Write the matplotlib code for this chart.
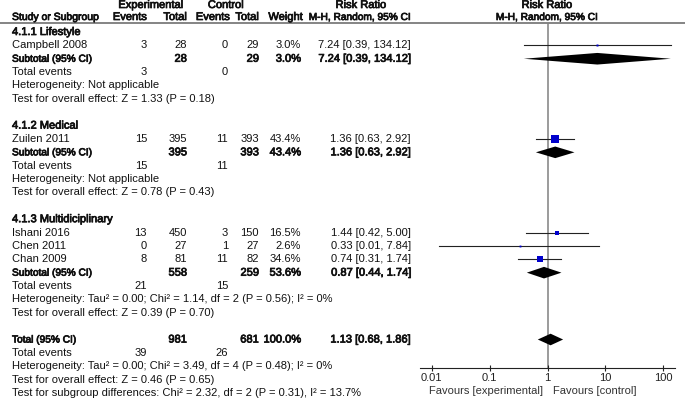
import numpy as np
import matplotlib.pyplot as plt
import matplotlib.patheffects as pe
from matplotlib.patches import Polygon

plt.rcParams['font.family'] = ['Liberation Sans', 'DejaVu Sans']
plt.rcParams['font.size'] = 8

##########
## DATA ##
##########

groups = ["4.1.1 Lifestyle", "4.1.2 Medical", "4.1.3 Multidiciplinary"]

studies = ["Campbell 2008", "Zuilen 2011", "Ishani 2016", "Chen 2011", "Chan 2009"]
study_group = [0, 1, 2, 2, 2]
exp_events = [3, 15, 13, 0, 8]
exp_total = [28, 395, 450, 27, 81]
ctl_events = [0, 11, 3, 1, 11]
ctl_total = [29, 393, 150, 27, 82]
weights = [3.0, 43.4, 16.5, 2.6, 34.6]
rr = [7.24, 1.36, 1.44, 0.33, 0.74]
rr_low = [0.39, 0.63, 0.42, 0.0136, 0.31]
rr_high = [134.12, 2.92, 5.00, 7.84, 1.74]

sub_exp_total = [28, 395, 558]
sub_ctl_total = [29, 393, 259]
sub_exp_events = [3, 15, 21]
sub_ctl_events = [0, 11, 15]
sub_weight = [3.0, 43.4, 53.6]
sub_rr = [7.24, 1.36, 0.87]
sub_low = [0.39, 0.63, 0.44]
sub_high = [134.12, 2.92, 1.74]
sub_het = ["Heterogeneity: Not applicable",
           "Heterogeneity: Not applicable",
           "Heterogeneity: Tau\u00b2 = 0.00; Chi\u00b2 = 1.14, df = 2 (P = 0.56); I\u00b2 = 0%"]
sub_test = ["Test for overall effect: Z = 1.33 (P = 0.18)",
            "Test for overall effect: Z = 0.78 (P = 0.43)",
            "Test for overall effect: Z = 0.39 (P = 0.70)"]

tot_exp_total = 981
tot_ctl_total = 681
tot_exp_events = 39
tot_ctl_events = 26
tot_weight = 100.0
tot_rr = 1.13
tot_low = 0.68
tot_high = 1.86
tot_het = "Heterogeneity: Tau\u00b2 = 0.00; Chi\u00b2 = 3.49, df = 4 (P = 0.48); I\u00b2 = 0%"
tot_test = "Test for overall effect: Z = 0.46 (P = 0.65)"
tot_subgroup = "Test for subgroup differences: Chi\u00b2 = 2.32, df = 2 (P = 0.31), I\u00b2 = 13.7%"

tick_vals = [0.01, 0.1, 1, 10, 100]
tick_labels = ["0.01", "0.1", "1", "10", "100"]

############
## LAYOUT ##
############

W, H = 685, 403
row0, row_h = 32, 13.37
x_label = 12
x_ee, x_et, x_ce, x_ct, x_w, x_rr = 147, 187, 228, 259, 301, 411
axis_y = 368
txt_col = '#111111'
small_bold = 7.3   # some bold labels are drawn narrower in the original

fig = plt.figure(figsize=(W / 100, H / 100), dpi=100)
tx = fig.add_axes([0, 0, 1, 1])
tx.set_xlim(0, W)
tx.set_ylim(H, 0)
tx.axis('off')

fx = fig.add_axes([420 / W, 0, 255 / W, 1])
fx.patch.set_visible(False)
fx.set_xscale('log')
fx.set_xlim(10 ** -2.2, 10 ** 2.2)
fx.set_ylim(H, 0)

# the reference's bold looks like a smeared regular face, so fake it with a thin stroke
fake_bold = [pe.withStroke(linewidth=0.55, foreground=txt_col)]


def ry(i):
    return row0 + row_h * i


def put(x, y, s, ha='right', bold=False, size=8):
    tx.text(x, y, s, ha=ha, va='center', color=txt_col, fontsize=size,
            path_effects=fake_bold if bold else None)


def rr_txt(v, lo, hi):
    return "%.2f [%.2f, %.2f]" % (v, lo, hi)


def diamond(y, v, lo, hi):
    hh = 5.8
    fx.add_patch(Polygon([[lo, y], [v, y - hh], [hi, y], [v, y + hh]],
                         closed=True, color='black', lw=0))


# headers
put(151, 5, "Experimental", ha='center', bold=True)
put(226, 5, "Control", ha='center', bold=True)
put(361, 5, "Risk Ratio", ha='center', bold=True)
put(547, 5, "Risk Ratio", ha='center', bold=True)
put(x_label, 17, "Study or Subgroup", ha='left', bold=True, size=7.5)
put(x_ee, 17, "Events", bold=True)
put(x_et, 17, "Total", bold=True)
put(x_ce + 2, 17, "Events", bold=True)
put(x_ct, 17, "Total", bold=True)
put(x_w + 2, 17, "Weight", bold=True)
put(x_rr, 17, "M-H, Random, 95% CI", bold=True, size=small_bold)
put(547, 17, "M-H, Random, 95% CI", ha='center', bold=True, size=small_bold)
tx.axhline(23, color='#707070', lw=1.2)

# rows
i = 0
for g, name in enumerate(groups):
    put(x_label, ry(i), name, ha='left', bold=True)
    i += 1
    for k in range(len(studies)):
        if study_group[k] != g:
            continue
        y = ry(i)
        put(x_label, y, studies[k], ha='left')
        put(x_ee, y, str(exp_events[k]))
        put(x_et, y, str(exp_total[k]))
        put(x_ce, y, str(ctl_events[k]))
        put(x_ct, y, str(ctl_total[k]))
        put(x_w, y, "%.1f%%" % weights[k])
        put(x_rr, y, rr_txt(rr[k], rr_low[k], rr_high[k]))
        fx.plot([rr_low[k], rr_high[k]], [y, y], color='#222222', lw=0.8)
        side = max(1.15 * np.sqrt(weights[k]), 1.2) * 0.72
        fx.plot([rr[k]], [y], marker='s', ms=side, color='#0000cc', mew=0)
        i += 1
    y = ry(i)
    put(x_label, y, "Subtotal (95% CI)", ha='left', bold=True, size=small_bold)
    put(x_et, y, str(sub_exp_total[g]), bold=True)
    put(x_ct, y, str(sub_ctl_total[g]), bold=True)
    put(x_w, y, "%.1f%%" % sub_weight[g], bold=True)
    put(x_rr, y, rr_txt(sub_rr[g], sub_low[g], sub_high[g]), bold=True)
    diamond(y, sub_rr[g], sub_low[g], sub_high[g])
    i += 1
    put(x_label, ry(i), "Total events", ha='left')
    put(x_ee, ry(i), str(sub_exp_events[g]))
    put(x_ce, ry(i), str(sub_ctl_events[g]))
    i += 1
    put(x_label, ry(i), sub_het[g], ha='left')
    i += 1
    put(x_label, ry(i), sub_test[g], ha='left')
    i += 2

y = ry(i)
put(x_label, y, "Total (95% CI)", ha='left', bold=True, size=small_bold)
put(x_et, y, str(tot_exp_total), bold=True)
put(x_ct, y, str(tot_ctl_total), bold=True)
put(x_w, y, "%.1f%%" % tot_weight, bold=True)
put(x_rr, y, rr_txt(tot_rr, tot_low, tot_high), bold=True)
diamond(y, tot_rr, tot_low, tot_high)
i += 1
put(x_label, ry(i), "Total events", ha='left')
put(x_ee, ry(i), str(tot_exp_events))
put(x_ce, ry(i), str(tot_ctl_events))
i += 1
put(x_label, ry(i), tot_het, ha='left')
i += 1
put(x_label, ry(i), tot_test, ha='left')
i += 1
put(x_label, ry(i), tot_subgroup, ha='left')

# forest axis
fx.vlines(1, 23, axis_y, color='#808080', lw=1.1, zorder=0)
for s in ['left', 'right', 'top']:
    fx.spines[s].set_visible(False)
fx.spines['bottom'].set_position(('data', axis_y))
fx.spines['bottom'].set_color('#222222')
fx.spines['bottom'].set_linewidth(0.8)
fx.set_yticks([])
fx.set_xticks(tick_vals)
fx.set_xticklabels(tick_labels)
fx.minorticks_off()
fx.tick_params(axis='x', direction='inout', length=5, width=0.8, pad=1,
               colors='#222222', labelsize=8)
tx.text(543, 391, "Favours [experimental]", ha='right', va='center', color='#333333')
tx.text(553, 391, "Favours [control]", ha='left', va='center', color='#333333')

fig.savefig("out.png", dpi=100)
